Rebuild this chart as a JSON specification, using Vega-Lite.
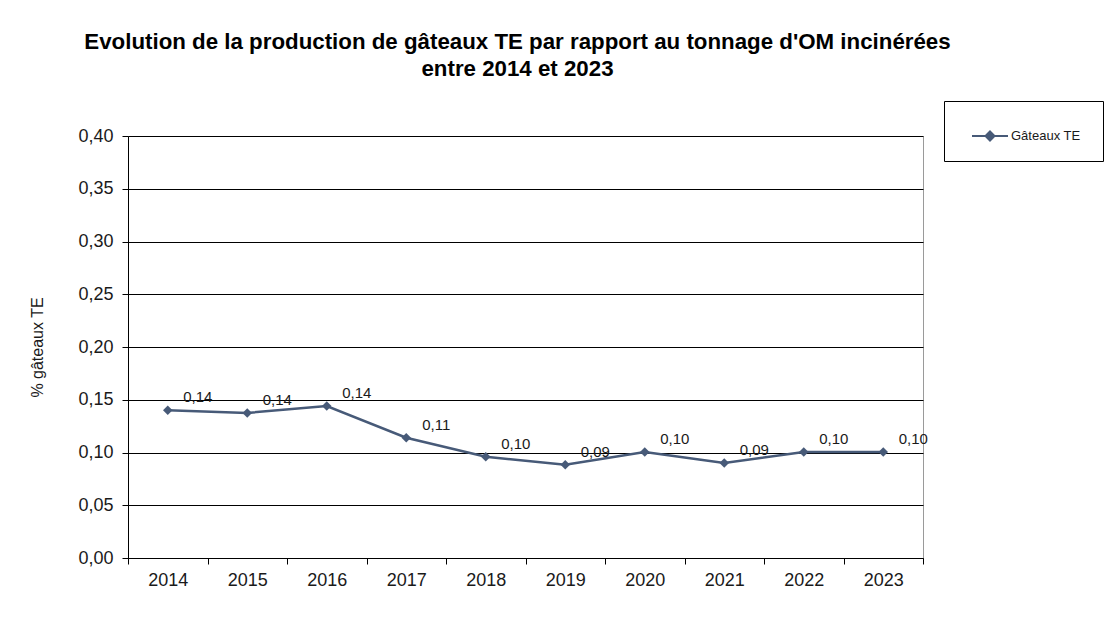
{
  "$schema": "https://vega.github.io/schema/vega-lite/v6.json",
  "autosize": {"type": "none"},
  "padding": {"left": 128, "top": 136, "right": 184, "bottom": 68},
  "width": 795,
  "height": 422,
  "background": "white",
  "config": {
    "font": "Liberation Sans",
    "view": {"stroke": "#9a9a9a", "strokeWidth": 1},
    "locale": {"number": {"decimal": ",", "thousands": "\u00a0", "grouping": [3], "currency": ["", " €"]}}
  },
  "title": {
    "text": ["Evolution de la production de gâteaux TE par rapport au tonnage d'OM incinérées", "entre 2014 et 2023"],
    "font": "Liberation Sans",
    "fontSize": 22.3,
    "fontWeight": "bold",
    "color": "#000000",
    "anchor": "middle",
    "lineHeight": 27,
    "dx": -8,
    "offset": 20
  },
  "data": {
    "values": [
      {"annee": "2014", "valeur": 0.140, "serie": "Gâteaux TE"},
      {"annee": "2015", "valeur": 0.1375, "serie": "Gâteaux TE"},
      {"annee": "2016", "valeur": 0.144, "serie": "Gâteaux TE"},
      {"annee": "2017", "valeur": 0.114, "serie": "Gâteaux TE"},
      {"annee": "2018", "valeur": 0.096, "serie": "Gâteaux TE"},
      {"annee": "2019", "valeur": 0.0885, "serie": "Gâteaux TE"},
      {"annee": "2020", "valeur": 0.1005, "serie": "Gâteaux TE"},
      {"annee": "2021", "valeur": 0.090, "serie": "Gâteaux TE"},
      {"annee": "2022", "valeur": 0.1005, "serie": "Gâteaux TE"},
      {"annee": "2023", "valeur": 0.1005, "serie": "Gâteaux TE"}
    ]
  },
  "encoding": {
    "x": {
      "field": "annee",
      "type": "ordinal",
      "bandPosition": 0.5,
      "scale": {"type": "band", "paddingInner": 0, "paddingOuter": 0},
      "axis": {
        "title": null,
        "labelAngle": 0,
        "tickBand": "extent",
        "grid": false,
        "domainColor": "#000000",
        "tickColor": "#000000",
        "tickSize": 6,
        "labelPadding": 7,
        "labelFont": "Liberation Sans",
        "labelFontSize": 18,
        "labelColor": "#1a1a1a"
      }
    },
    "y": {
      "field": "valeur",
      "type": "quantitative",
      "scale": {"domain": [0, 0.4], "nice": false},
      "axis": {
        "title": "% gâteaux TE",
        "titleFont": "Liberation Sans",
        "titleFontSize": 16,
        "titleFontWeight": "normal",
        "titleColor": "#1a1a1a",
        "titlePadding": 32,
        "values": [0, 0.05, 0.1, 0.15, 0.2, 0.25, 0.3, 0.35, 0.4],
        "format": ".2f",
        "grid": true,
        "gridColor": "#000000",
        "gridOpacity": 1,
        "gridWidth": 1,
        "domainColor": "#000000",
        "tickColor": "#000000",
        "tickSize": 6,
        "labelPadding": 9,
        "labelFont": "Liberation Sans",
        "labelFontSize": 18,
        "labelColor": "#1a1a1a"
      }
    }
  },
  "layer": [
    {
      "mark": {"type": "line", "strokeWidth": 2.5},
      "encoding": {
        "color": {
          "field": "serie",
          "type": "nominal",
          "scale": {"range": ["#475a78"]},
          "legend": {
            "title": "xx",
            "titleOrient": "right",
            "titleColor": "white",
            "titleFontSize": 6,
            "titlePadding": 0,
            "orient": "none",
            "legendX": 816,
            "legendY": -35,
            "strokeColor": "#000000",
            "fillColor": "white",
            "padding": 16,
            "symbolOffset": 11,
            "symbolType": "M-1,0H1M0,-0.25L0.25,0L0,0.25L-0.25,0Z",
            "symbolSize": 1296,
            "symbolStrokeWidth": 2,
            "symbolFillColor": "#475a78",
            "symbolStrokeColor": "#475a78",
            "labelFont": "Liberation Sans",
            "labelFontSize": 13,
            "labelColor": "#1a1a1a",
            "labelOffset": 2
          }
        }
      }
    },
    {
      "mark": {"type": "point", "shape": "diamond", "filled": true, "size": 90, "color": "#475a78", "opacity": 1}
    },
    {
      "mark": {"type": "text", "dx": 30, "dy": -13, "fontSize": 15, "font": "Liberation Sans", "color": "#1a1a1a"},
      "encoding": {
        "text": {"field": "valeur", "type": "quantitative", "format": ".2f"}
      }
    }
  ]
}
